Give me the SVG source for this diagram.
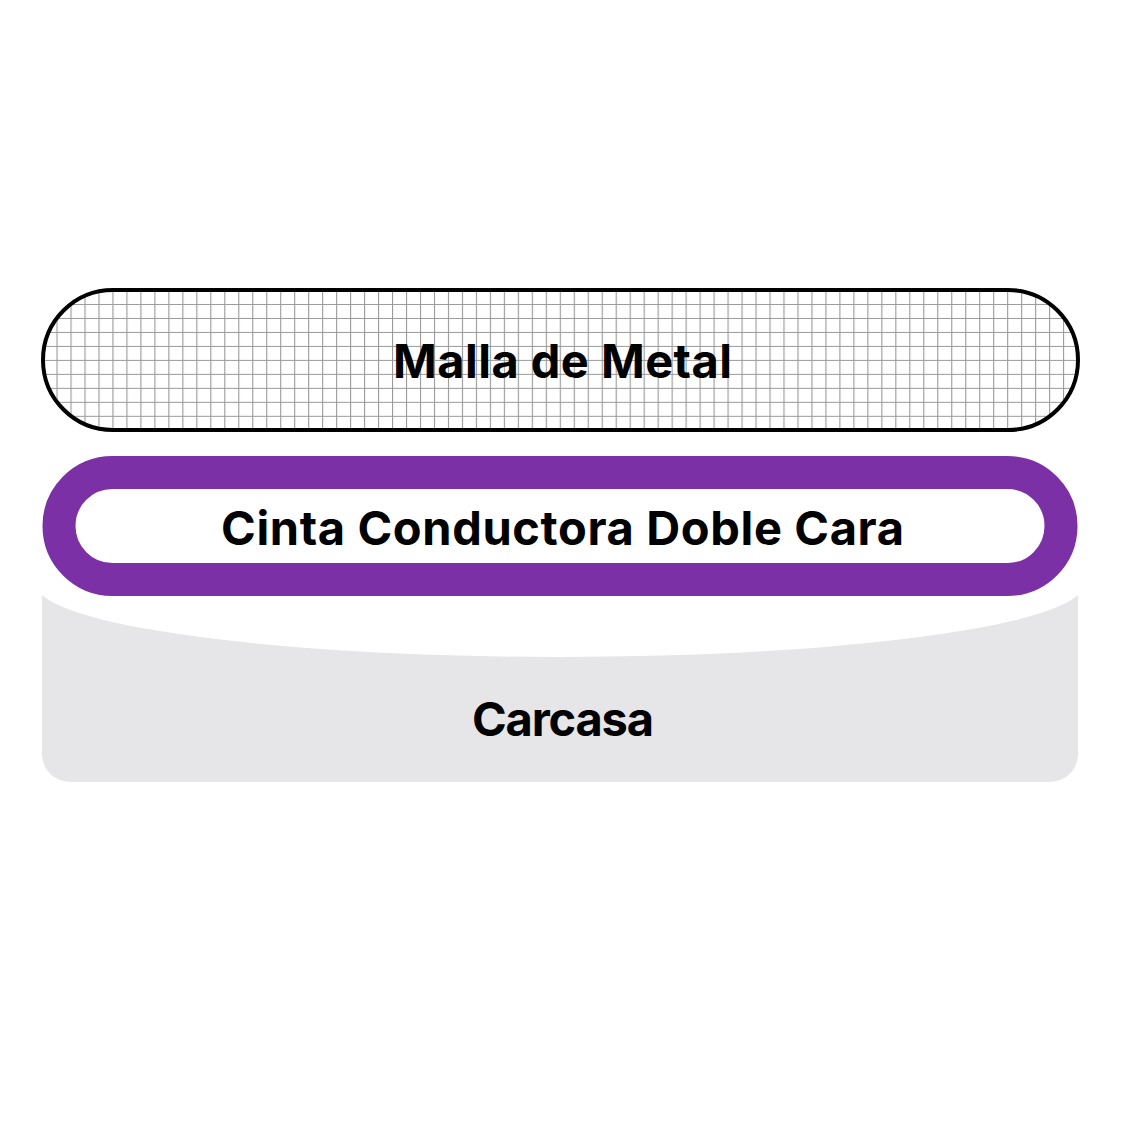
<svg xmlns="http://www.w3.org/2000/svg" width="1125" height="1130" viewBox="0 0 1125 1130">
<style>
.lbl{font-family:Inter,"Liberation Sans",sans-serif;font-weight:700;font-size:47px;fill:#000;text-anchor:middle}
</style>
<defs>
<pattern id="grid" patternUnits="userSpaceOnUse" x="42.5" y="290" width="13.98" height="13.98">
<rect width="13.98" height="13.98" fill="#fff"/>
<path d="M0.5,0 V13.98 M0,0.5 H13.98" stroke="#9a9a9a" stroke-width="1.2" fill="none"/>
</pattern>
</defs>
<rect width="1125" height="1130" fill="#fff"/>
<g id="carcasa">
<path d="M42,595 A524,73 0 0 0 1078,595 L1078,754 A28,28 0 0 1 1050,782 L70,782 A28,28 0 0 1 42,754 Z" fill="#e6e6e8"/>
<text class="lbl" x="563" y="736" textLength="182" lengthAdjust="spacing">Carcasa</text>
</g>
<g id="cinta">
<rect x="59" y="472.5" width="1002" height="107" rx="53.5" fill="#fff" stroke="#7b31a5" stroke-width="33"/>
<text class="lbl" x="562.5" y="545" textLength="683" lengthAdjust="spacing">Cinta Conductora Doble Cara</text>
</g>
<g id="malla">
<rect x="43" y="290" width="1035" height="140" rx="70" fill="url(#grid)" stroke="#000" stroke-width="4"/>
<text class="lbl" x="562.5" y="378" textLength="339" lengthAdjust="spacing">Malla de Metal</text>
</g>
<g id="connectors"/>
</svg>
